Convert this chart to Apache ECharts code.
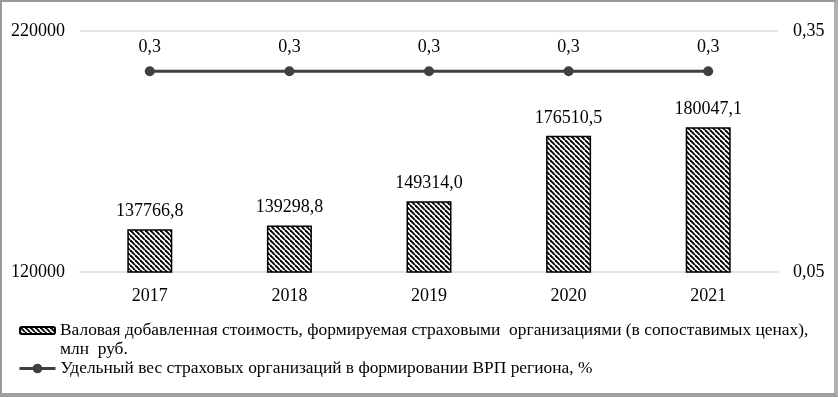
<!DOCTYPE html>
<html><head><meta charset="utf-8">
<script src="https://cdn.jsdelivr.net/npm/echarts@6/dist/echarts.min.js"></script>
<style>
html,body{margin:0;padding:0;background:#fff;}
#frame{position:absolute;left:0;top:0;width:838px;height:397px;box-sizing:border-box;border-top:2px solid #9a9a9a;border-left:2px solid #9a9a9a;border-right:4px solid #b0b0b0;border-bottom:4px solid #a0a0a0;}
#c{position:absolute;left:0;top:0;width:838px;height:397px;}
</style></head>
<body><div id="c"></div><div id="frame"></div>
<script>
const categories = ['2017','2018','2019','2020','2021'];
const gvaValues = [137766.8, 139298.8, 149314.0, 176510.5, 180047.1];
const shareValues = [0.3, 0.3, 0.3, 0.3, 0.3];
const leftTicks = [120000, 220000];
const rightTicks = [0.05, 0.35];
const barName = 'Валовая добавленная стоимость, формируемая страховыми  организациями (в сопоставимых ценах),\nмлн  руб.';
const lineName = 'Удельный вес страховых организаций в формировании ВРП региона, %';

function hatch(){
  const s = 5;
  const cv = document.createElement('canvas');
  cv.width = s; cv.height = s;
  const ctx = cv.getContext('2d');
  ctx.fillStyle = '#fff'; ctx.fillRect(0,0,s,s);
  ctx.strokeStyle = '#000'; ctx.lineWidth = 1.9;
  for (const k of [-s, 0, s]) {
    ctx.beginPath(); ctx.moveTo(k, 0); ctx.lineTo(k + s, s); ctx.stroke();
  }
  return cv;
}
const pattern = { image: hatch(), repeat: 'repeat' };
const FONT = "'Liberation Serif', serif";
const fmt = (v, d) => v.toFixed(d).replace('.', ',');

const chart = echarts.init(document.getElementById('c'));
chart.setOption({
  animation: false,
  textStyle: { fontFamily: FONT, color: '#000' },
  grid: { left: 80, right: 60, top: 31, bottom: 125 },
  legend: [
    { data: [barName], orient: 'vertical', left: 19, top: 302, padding: 0, itemWidth: 35, itemHeight: 7,
      formatter: n => ' \n' + n,
      textStyle: { fontFamily: FONT, fontSize: 17.4, color: '#000', lineHeight: 19 },
      selectedMode: false },
    { data: [lineName], orient: 'vertical', left: 18, top: 359, padding: 0, itemWidth: 36, itemHeight: 12,
      lineStyle: { width: 3, color: '#404040' },
      textStyle: { fontFamily: FONT, fontSize: 17.4, color: '#000', lineHeight: 19 },
      selectedMode: false }
  ],
  xAxis: {
    type: 'category', data: categories,
    axisLine: { lineStyle: { color: '#d9d9d9', width: 1.5 } },
    axisTick: { show: false },
    axisLabel: { fontFamily: FONT, fontSize: 18, color: '#000', margin: 15 }
  },
  yAxis: [
    { type: 'value', min: 120000, max: 220000,
      axisLine: { show: false }, axisTick: { show: false }, splitLine: { show: false },
      axisLabel: { customValues: leftTicks, fontFamily: FONT, fontSize: 18, color: '#000', margin: 15,
        formatter: v => String(v) } },
    { type: 'value', min: 0.05, max: 0.35,
      axisLine: { show: false }, axisTick: { show: false }, splitLine: { show: false },
      axisLabel: { customValues: rightTicks, fontFamily: FONT, fontSize: 18, color: '#000', margin: 15,
        formatter: v => fmt(v, 2) } }
  ],
  series: [
    { name: barName, type: 'bar', yAxisIndex: 0, data: gvaValues, barWidth: 45,
      itemStyle: { color: pattern, borderColor: '#000', borderWidth: 1.5 },
      label: { show: true, position: 'top', distance: 9, fontFamily: FONT, fontSize: 18, color: '#000',
        formatter: p => fmt(p.value, 1) },
      markLine: { silent: true, symbol: 'none', label: { show: false },
        lineStyle: { color: '#d9d9d9', type: 'solid', width: 1.5 },
        data: [{ yAxis: leftTicks[1] }] } },
    { name: lineName, type: 'line', yAxisIndex: 1, data: shareValues,
      symbol: 'circle', symbolSize: 10,
      lineStyle: { color: '#404040', width: 3 }, itemStyle: { color: '#404040' },
      label: { show: true, position: 'top', distance: 10, fontFamily: FONT, fontSize: 18, color: '#000',
        formatter: p => fmt(p.value, 1) } }
  ]
});
</script></body></html>
